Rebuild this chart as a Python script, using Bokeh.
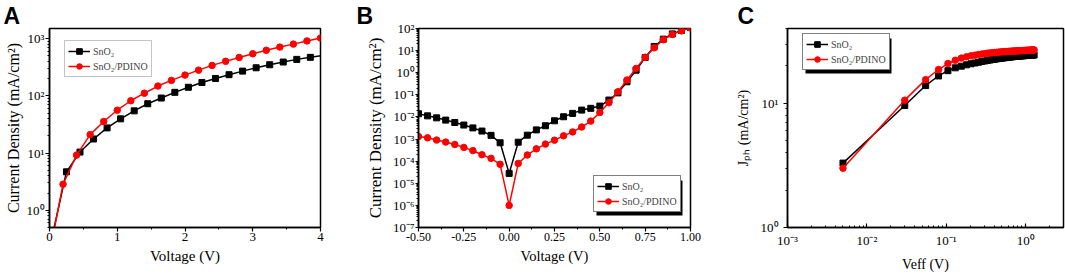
from bokeh.plotting import figure
from bokeh.layouts import row
from bokeh.models import (Range1d, FixedTicker, CustomJSTickFormatter, PrintfTickFormatter,
                          Legend, LegendItem, BoxAnnotation, Title)
from bokeh.embed import file_html
from bokeh.resources import INLINE

SERIF = "Liberation Serif"
SANS = "Liberation Sans"
BLACK = "#000000"
RED = "#ff0000"

# ---------------- Panel A data ----------------
a_sno2_v = [0.05, 0.25, 0.45, 0.65, 0.85, 1.05, 1.25, 1.45, 1.65, 1.85, 2.05, 2.25, 2.45,
            2.65, 2.85, 3.05, 3.25, 3.45, 3.65, 3.85, 4.05]
a_sno2_j = [0.4, 4.7, 10.4, 17.6, 27.5, 39.6, 54.6, 72.7, 91.5, 115, 141, 171, 201,
            234, 270, 309, 349, 389, 433, 470, 510]
a_pdino_v = [0.05, 0.2, 0.4, 0.6, 0.8, 1.0, 1.2, 1.4, 1.6, 1.8, 2.0, 2.2, 2.4, 2.6, 2.8,
             3.0, 3.2, 3.4, 3.6, 3.8, 4.0]
a_pdino_j = [0.35, 2.85, 9.2, 21, 35.6, 56, 82, 111, 148, 186, 230, 281, 340, 400, 468,
             543, 623, 710, 800, 910, 1020]
a_xticks = [0, 1, 2, 3, 4]
a_yticks = [1, 10, 100, 1000]

# ---------------- Panel B data ----------------
b_v = [-0.50, -0.45, -0.40, -0.35, -0.30, -0.25, -0.20, -0.15, -0.10, -0.05, 0.00,
       0.05, 0.10, 0.15, 0.20, 0.25, 0.30, 0.35, 0.40, 0.45, 0.50, 0.55, 0.60, 0.65,
       0.70, 0.75, 0.80, 0.85, 0.90, 0.95, 1.00]
b_sno2_j = [0.014, 0.0112, 0.0091, 0.0072, 0.0056, 0.0043, 0.0032, 0.0023, 0.00147,
            0.00068, 2.8e-5, 0.00072, 0.0015, 0.0026, 0.0040, 0.0067, 0.0102, 0.0145,
            0.0204, 0.0245, 0.031, 0.058, 0.123, 0.39, 1.3, 4.9, 15.4, 33, 57, 81, 110]
b_pdino_j = [0.0013, 0.00114, 0.00090, 0.00073, 0.00057, 0.00042, 0.00030, 0.000195,
             0.000134, 7.2e-5, 1.0e-6, 7.9e-5, 0.00019, 0.00036, 0.00059, 0.00089,
             0.0014, 0.0021, 0.0035, 0.0065, 0.0159, 0.044, 0.138, 0.47, 1.56, 5.0,
             13.4, 31, 54, 78, 107]
b_xticks = [-0.50, -0.25, 0.00, 0.25, 0.50, 0.75, 1.00]
b_yticks = [1e-7, 1e-6, 1e-5, 1e-4, 1e-3, 1e-2, 1e-1, 1, 10, 100]

# ---------------- Panel C data ----------------
c_veff = [0.005, 0.03, 0.055, 0.08, 0.105, 0.13, 0.155, 0.18, 0.205, 0.23, 0.255, 0.28,
          0.305, 0.33, 0.355, 0.38, 0.405, 0.43, 0.455, 0.48, 0.505, 0.53, 0.555, 0.58,
          0.605, 0.63, 0.655, 0.68, 0.705, 0.73, 0.755, 0.78, 0.805, 0.83, 0.855, 0.88,
          0.905, 0.93, 0.955, 0.98, 1.005, 1.03, 1.055, 1.08, 1.105, 1.13, 1.155, 1.18,
          1.205, 1.23, 1.255, 1.28]
c_sno2_j = [3.3, 9.6, 13.9, 16.6, 18.3, 19.3, 19.9, 20.4, 20.8, 21.1, 21.4, 21.7,
            21.9, 22.1, 22.3, 22.5, 22.6, 22.8, 22.9, 23.0, 23.1, 23.2, 23.3, 23.4,
            23.5, 23.55, 23.6, 23.7, 23.75, 23.8, 23.85, 23.9, 23.95, 24.0, 24.05, 24.1,
            24.1, 24.15, 24.2, 24.2, 24.25, 24.3, 24.3, 24.35, 24.35, 24.4, 24.4, 24.45,
            24.45, 24.5, 24.5, 24.5]
c_pdino_j = [3.0, 10.6, 15.5, 18.7, 20.9, 22.2, 23.1, 23.7, 24.1, 24.4, 24.7, 24.9,
             25.1, 25.3, 25.4, 25.5, 25.6, 25.7, 25.8, 25.9, 25.95, 26.0, 26.05, 26.1,
             26.15, 26.2, 26.25, 26.3, 26.3, 26.35, 26.4, 26.4, 26.45, 26.5, 26.5, 26.55,
             26.55, 26.6, 26.6, 26.65, 26.65, 26.7, 26.7, 26.7, 26.75, 26.75, 26.8, 26.8,
             26.8, 26.85, 26.85, 26.9]
c_xticks = [1e-3, 1e-2, 1e-1, 1]
c_yticks = [1, 10]

series_labels = ["SnO\u2082", "SnO\u2082/PDINO"]
panel_letters = ["A", "B", "C"]

SUP = CustomJSTickFormatter(code="""
const sup = {"0":"\u2070","1":"\u00b9","2":"\u00b2","3":"\u00b3","4":"\u2074","5":"\u2075",
             "6":"\u2076","7":"\u2077","8":"\u2078","9":"\u2079","-":"\u207b"};
const e = Math.round(Math.log10(tick));
return "10" + String(e).split("").map(c => sup[c]).join("");
""")


def log_minor(decades, lo, hi):
    out = []
    for d in decades:
        for m in range(2, 10):
            v = d * m
            if lo <= v <= hi:
                out.append(v)
    return out


def make_fig(width, left, right, xr, yr, letter, letter_offset, x_type="linear"):
    p = figure(width=width, height=274, x_range=xr, y_range=yr,
               x_axis_type=x_type, y_axis_type="log", output_backend="svg",
               toolbar_location=None, min_border_left=left, min_border_right=right,
               min_border_top=24, min_border_bottom=44)
    p.title = Title(text=letter, align="left", offset=letter_offset, standoff=0,
                    text_font=SANS, text_font_style="bold", text_font_size="23px",
                    text_line_height=0.8, text_color="black")
    p.xgrid.visible = False
    p.ygrid.visible = False
    p.outline_line_color = "black"
    p.outline_line_width = 1.5
    p.outline_line_alpha = 1
    p.background_fill_color = "white"
    p.border_fill_color = "white"
    for ax in list(p.xaxis) + list(p.yaxis):
        ax.axis_line_width = 1.5
        ax.major_tick_line_width = 1.2
        ax.minor_tick_line_width = 1
        ax.major_label_text_font = SERIF
        ax.major_label_text_font_size = "13px"
        ax.major_label_text_color = "black"
        ax.axis_label_text_font = SERIF
        ax.axis_label_text_font_style = "normal"
        ax.axis_label_text_color = "black"
        ax.major_tick_out = 4
        ax.major_tick_in = 0
        ax.minor_tick_out = 2
        ax.minor_tick_in = 0
        ax.major_label_standoff = 1
    return p


def draw(p, x1, y1, x2, y2):
    l1 = p.line(x1, y1, line_color=BLACK, line_width=1.5)
    s1 = p.scatter(x1, y1, marker="square", size=6, fill_color=BLACK, line_color=BLACK)
    l2 = p.line(x2, y2, line_color=RED, line_width=1.5)
    s2 = p.scatter(x2, y2, marker="circle", size=6.5, fill_color=RED, line_color=RED)
    return [l1, s1], [l2, s2]


def add_legend(p, r1, r2, loc, border, shadow):
    padding, gw, gh, ls, lw, sp = 3, 22, 14, 3, 55, 1
    W = 2 * padding + gw + ls + lw
    H = 2 * padding + 2 * gh + sp
    if shadow:
        p.add_layout(BoxAnnotation(left=loc[0] + 3, right=loc[0] + W + 3,
                                   bottom=loc[1] - 3, top=loc[1] + H - 3,
                                   left_units="screen", right_units="screen",
                                   top_units="screen", bottom_units="screen",
                                   fill_color="black", fill_alpha=1, line_color=None))
    leg = Legend(items=[LegendItem(label=series_labels[0], renderers=r1),
                        LegendItem(label=series_labels[1], renderers=r2)],
                 location=loc, margin=0, padding=padding, spacing=sp,
                 glyph_width=gw, glyph_height=gh, label_height=gh, label_width=lw,
                 label_standoff=ls, label_text_font=SERIF, label_text_font_size="10px",
                 border_line_color=border, border_line_width=1,
                 background_fill_color="white", background_fill_alpha=1)
    p.add_layout(leg, "center")


# ================= Panel A =================
pA = make_fig(355, 49, 35, Range1d(0, 4), Range1d(0.5, 1500), panel_letters[0], -46)
rA1, rA2 = draw(pA, a_sno2_v, a_sno2_j, a_pdino_v, a_pdino_j)
pA.xaxis.ticker = FixedTicker(ticks=a_xticks, minor_ticks=[0.5, 1.5, 2.5, 3.5])
pA.yaxis.ticker = FixedTicker(ticks=a_yticks, minor_ticks=log_minor([0.1, 1, 10, 100, 1000], 0.5, 1500))
pA.yaxis.formatter = SUP
pA.xaxis.axis_label = "Voltage (V)"
pA.yaxis.axis_label = "Current Density (mA/cm\u00b2)"
pA.xaxis.axis_label_text_font_size = "15px"
pA.yaxis.axis_label_text_font_size = "16px"
pA.xaxis.axis_label_standoff = 4
pA.yaxis.axis_label_standoff = 2
add_legend(pA, rA1, rA2, (15, 150), "#8a8a8a", False)

# ================= Panel B =================
pB = make_fig(360, 63, 25, Range1d(-0.5, 1.0), Range1d(1e-7, 100), panel_letters[1], -62)
rB1, rB2 = draw(pB, b_v, b_sno2_j, b_v, b_pdino_j)
pB.xaxis.ticker = FixedTicker(ticks=b_xticks,
                              minor_ticks=[-0.375, -0.125, 0.125, 0.375, 0.625, 0.875])
pB.xaxis.formatter = PrintfTickFormatter(format="%.2f")
pB.xaxis.major_label_text_font_size = "12px"
pB.yaxis.ticker = FixedTicker(ticks=b_yticks, minor_ticks=log_minor(b_yticks, 1e-7, 100))
pB.yaxis.formatter = SUP
pB.yaxis.major_tick_out = 3
pB.xaxis.axis_label = "Voltage (V)"
pB.yaxis.axis_label = "Current Density (mA/cm\u00b2)"
pB.xaxis.axis_label_text_font_size = "14.5px"
pB.yaxis.axis_label_text_font_size = "17px"
pB.xaxis.axis_label_standoff = 4
pB.yaxis.axis_label_standoff = 5
add_legend(pB, rB1, rB2, (175, 15), "black", True)

# ================= Panel C =================
pC = make_fig(350, 72, 2, Range1d(1e-3, 3), Range1d(1, 40), panel_letters[2], -50, x_type="log")
rC1, rC2 = draw(pC, c_veff, c_sno2_j, c_veff, c_pdino_j)
pC.xaxis.ticker = FixedTicker(ticks=c_xticks, minor_ticks=log_minor(c_xticks, 1e-3, 3))
pC.yaxis.ticker = FixedTicker(ticks=c_yticks, minor_ticks=log_minor(c_yticks, 1, 40))
pC.xaxis.formatter = SUP
pC.yaxis.formatter = SUP
pC.xaxis.major_tick_in = 4
pC.xaxis.major_tick_out = 0
pC.xaxis.minor_tick_in = 2
pC.xaxis.minor_tick_out = 0
pC.xaxis.major_label_standoff = 5
pC.yaxis.major_label_standoff = 5
pC.xaxis.axis_label = "Veff (V)"
pC.yaxis.axis_label = "J\u209a\u2095 (mA/cm\u00b2)"
pC.xaxis.axis_label_text_font_size = "14px"
pC.yaxis.axis_label_text_font_size = "14px"
pC.xaxis.axis_label_standoff = 6
pC.yaxis.axis_label_standoff = 7
add_legend(pC, rC1, rC2, (15, 157), "black", True)

layout = row(pA, pB, pC)
open("out.html", "w").write(file_html(layout, INLINE))
